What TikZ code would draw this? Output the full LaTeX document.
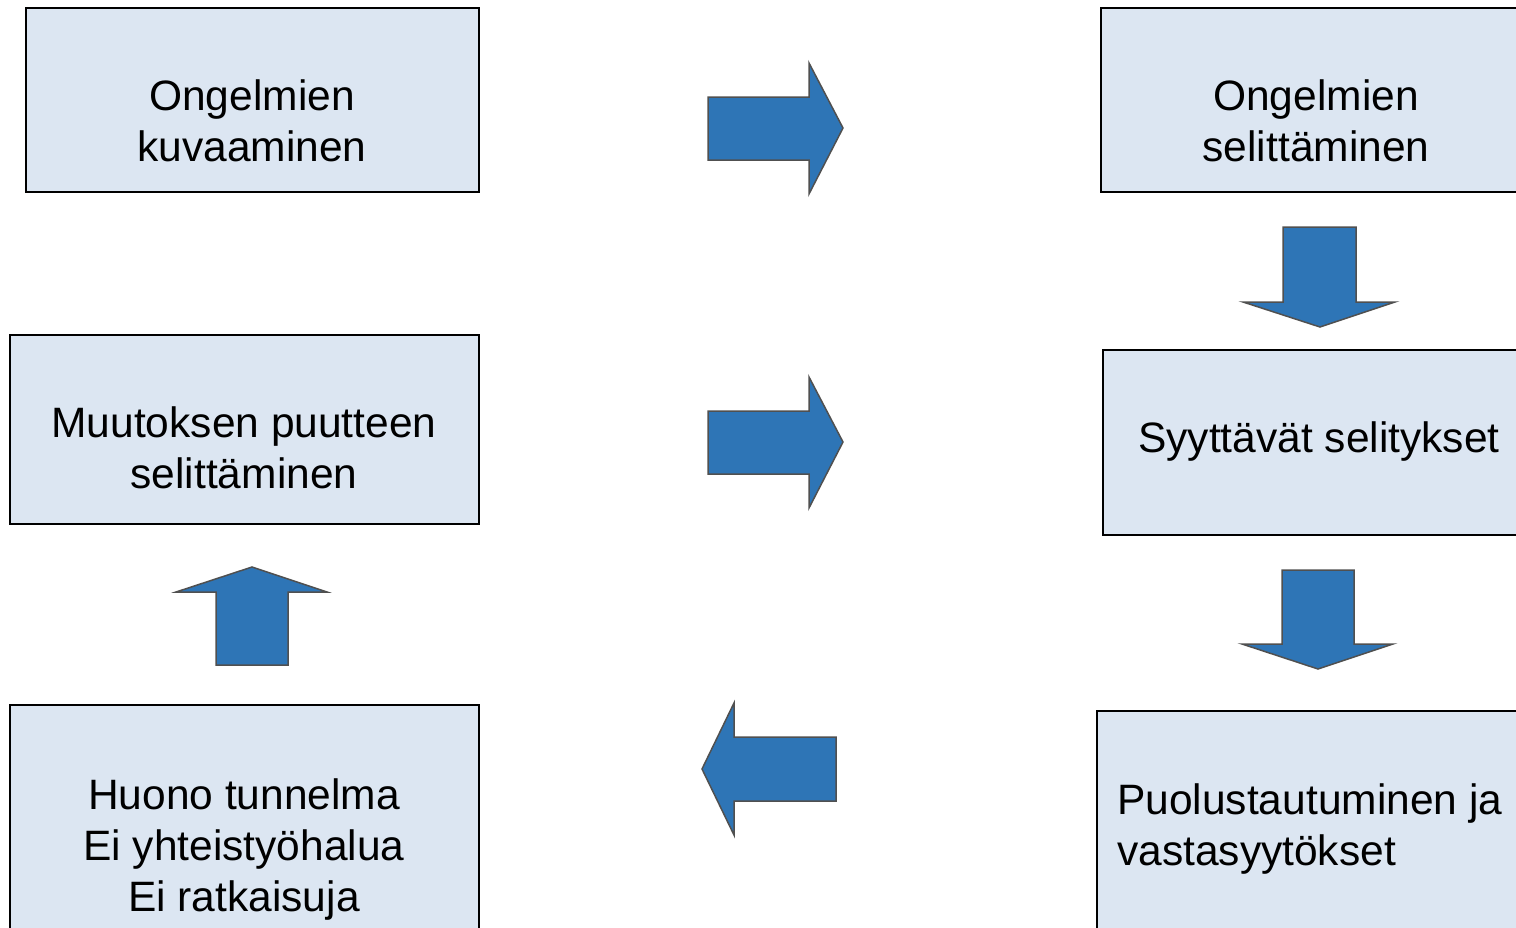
\documentclass[tikz,border=0pt]{standalone}
\usepackage{fontspec}
\setmainfont{Liberation Sans}
\definecolor{boxfill}{HTML}{DCE6F2}
\definecolor{arrfill}{HTML}{2E75B6}
\definecolor{arrline}{HTML}{505050}
\begin{document}
\begin{tikzpicture}[x=1pt,y=-1pt,
  box/.style={draw=black, line width=2pt, fill=boxfill, inner sep=0pt, anchor=north west},
  txt/.style={font=\fontsize{42.5}{52}\selectfont, inner sep=0pt, anchor=base},
  txtl/.style={txt, anchor=base west},
  blockarrow/.style={fill=arrfill, draw=arrline, line width=1.5pt, line join=miter}]
\useasboundingbox (0,0) rectangle (1516,927);
\clip (0,0) rectangle (1516,927);
% boxes
\node[box, minimum width=453pt, minimum height=184pt] (b1) at (24.5,6.5) {};
\node[box, minimum width=432pt, minimum height=184pt] (b2) at (1099.5,6.5) {};
\node[box, minimum width=469pt, minimum height=189pt] (b3) at (8.5,333.5) {};
\node[box, minimum width=434pt, minimum height=185pt] (b4) at (1101.5,348.5) {};
\node[box, minimum width=469pt, minimum height=300pt] (b5) at (8.5,703.5) {};
\node[box, minimum width=440pt, minimum height=300pt] (b6) at (1095.5,709.5) {};
% texts
\node[txt] (t1a) at (252,110) {Ongelmien};
\node[txt] (t1b) at (252,161) {kuvaaminen};
\node[txt] (t2a) at (1316,110) {Ongelmien};
\node[txt] (t2b) at (1316,161) {selittäminen};
\node[txt] (t3a) at (244,437) {Muutoksen puutteen};
\node[txt] (t3b) at (244,488) {selittäminen};
\node[txt] (t4a) at (1319,452) {Syyttävät selitykset};
\node[txt] (t5a) at (244,809) {Huono tunnelma};
\node[txt] (t5b) at (244,860) {Ei yhteistyöhalua};
\node[txt] (t5c) at (244,911) {Ei ratkaisuja};
\node[txtl] (t6a) at (1117,814) {Puolustautuminen ja};
\node[txtl] (t6b) at (1117,865) {vastasyytökset};
% block arrows
\draw[blockarrow] (708,97) -- (809,97) -- (809,63) -- (843,128) -- (809,194) -- (809,160) -- (708,160) -- cycle;
\draw[blockarrow] (708,411) -- (809,411) -- (809,377) -- (843,442) -- (809,508) -- (809,474) -- (708,474) -- cycle;
\draw[blockarrow] (1283,227) -- (1356,227) -- (1356,302) -- (1395,302) -- (1320,327) -- (1243,302) -- (1283,302) -- cycle;
\draw[blockarrow] (1282,570) -- (1354,570) -- (1354,644) -- (1393,644) -- (1318,669) -- (1242,644) -- (1282,644) -- cycle;
\draw[blockarrow] (836,737) -- (734,737) -- (734,703) -- (702,769) -- (734,835) -- (734,801) -- (836,801) -- cycle;
\draw[blockarrow] (216,665) -- (288,665) -- (288,592) -- (327,592) -- (252,567) -- (176,592) -- (216,592) -- cycle;
\end{tikzpicture}
\end{document}
